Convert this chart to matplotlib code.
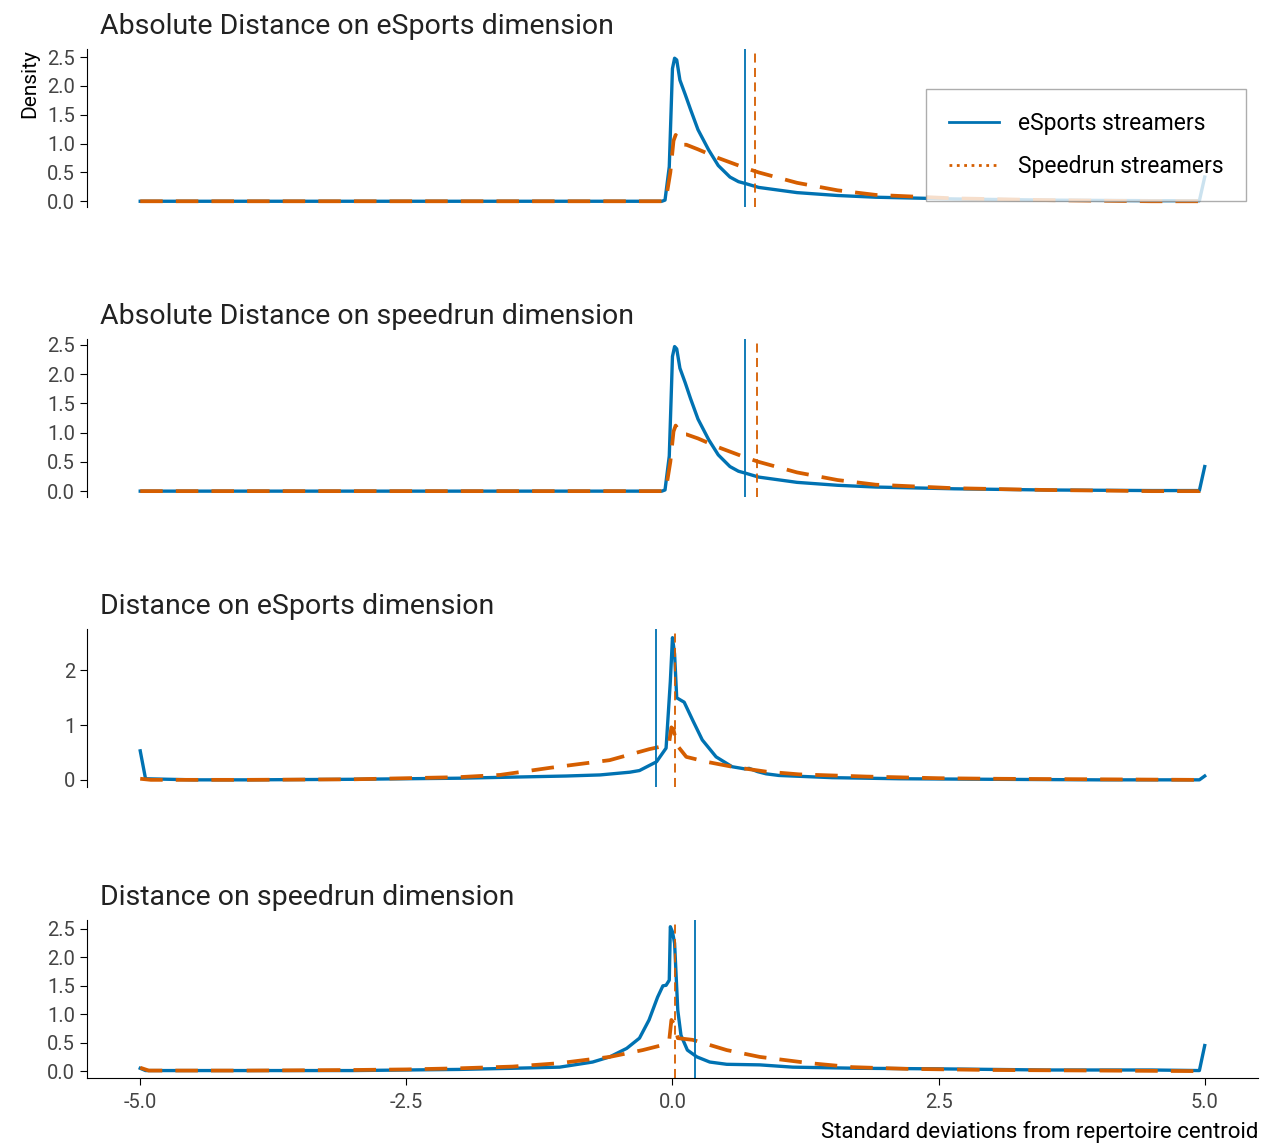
import matplotlib.pyplot as plt
from matplotlib.lines import Line2D

plt.rcParams['font.family'] = ['Roboto', 'DejaVu Sans']

BLUE = '#0072B2'
ORANGE = '#D55E00'

titles = ['Absolute Distance on eSports dimension',
          'Absolute Distance on speedrun dimension',
          'Distance on eSports dimension',
          'Distance on speedrun dimension']

# density curves: (x, density)
abs_esp_blue_x = [-5.0, -0.1, -0.07, -0.03, 0.0, 0.02, 0.04, 0.07, 0.12, 0.17, 0.24, 0.34, 0.43, 0.54, 0.62, 0.68,
                  0.81, 1.17, 1.55, 1.91, 2.65, 3.5, 4.5, 4.95, 5.0]
abs_esp_blue_y = [0.0, 0.0, 0.02, 0.6, 2.3, 2.48, 2.45, 2.1, 1.85, 1.59, 1.24, 0.89, 0.62, 0.42, 0.34, 0.31,
                  0.24, 0.15, 0.10, 0.07, 0.04, 0.02, 0.01, 0.01, 0.42]
abs_esp_orng_x = [-5.0, -0.1, -0.06, -0.02, 0.01, 0.03, 0.05, 0.08, 0.13, 0.24, 0.43, 0.68, 0.81, 1.17, 1.55,
                  1.91, 2.65, 3.5, 4.5, 4.95, 5.0]
abs_esp_orng_y = [0.0, 0.0, 0.05, 0.5, 1.05, 1.15, 1.1, 0.98, 0.98, 0.9, 0.75, 0.58, 0.5, 0.32, 0.19,
                  0.11, 0.05, 0.02, 0.0, 0.0, 0.08]

abs_spd_blue_x = [-5.0, -0.1, -0.07, -0.03, 0.0, 0.02, 0.04, 0.07, 0.12, 0.17, 0.24, 0.34, 0.43, 0.54, 0.62, 0.68,
                  0.81, 1.17, 1.55, 1.91, 2.65, 3.5, 4.5, 4.95, 5.0]
abs_spd_blue_y = [0.0, 0.0, 0.02, 0.6, 2.3, 2.47, 2.43, 2.1, 1.85, 1.58, 1.23, 0.88, 0.62, 0.42, 0.34, 0.31,
                  0.24, 0.15, 0.10, 0.07, 0.04, 0.02, 0.01, 0.01, 0.42]
abs_spd_orng_x = [-5.0, -0.1, -0.06, -0.02, 0.01, 0.03, 0.05, 0.08, 0.13, 0.24, 0.43, 0.68, 0.81, 1.17, 1.55,
                  1.91, 2.65, 3.5, 4.5, 4.95, 5.0]
abs_spd_orng_y = [0.0, 0.0, 0.05, 0.5, 1.02, 1.12, 1.07, 0.97, 0.97, 0.9, 0.75, 0.58, 0.5, 0.32, 0.19,
                  0.11, 0.05, 0.02, 0.0, 0.0, 0.08]

esp_blue_x = [-5.0, -4.95, -4.5, -4.0, -3.0, -2.5, -2.0, -1.5, -1.0, -0.68, -0.4, -0.31, -0.15, -0.06, -0.02,
              0.0, 0.02, 0.04, 0.11, 0.19, 0.28, 0.41, 0.56, 0.68, 0.72, 0.8, 0.88, 1.0, 1.5, 2.13, 3.0, 4.0,
              4.95, 5.0]
esp_blue_y = [0.53, 0.02, 0.0, 0.0, 0.01, 0.02, 0.03, 0.05, 0.07, 0.09, 0.14, 0.17, 0.33, 0.58, 1.8,
              2.6, 2.3, 1.5, 1.42, 1.09, 0.73, 0.42, 0.24, 0.2, 0.21, 0.15, 0.11, 0.08, 0.04, 0.02, 0.01, 0.0,
              0.0, 0.07]
esp_orng_x = [-5.0, -4.9, -4.0, -3.0, -2.5, -2.0, -1.62, -1.15, -0.59, -0.22, -0.08, -0.03, -0.01, 0.01, 0.04,
              0.13, 0.32, 0.56, 0.88, 1.19, 1.82, 2.5, 3.0, 4.0, 4.9, 5.0]
esp_orng_y = [0.02, 0.0, 0.0, 0.01, 0.03, 0.05, 0.09, 0.22, 0.36, 0.56, 0.62, 0.7, 0.96, 0.92, 0.64,
              0.42, 0.33, 0.24, 0.15, 0.1, 0.06, 0.03, 0.02, 0.01, 0.0, 0.07]

spd_blue_x = [-5.0, -4.95, -4.0, -3.0, -2.5, -2.0, -1.5, -1.06, -0.75, -0.59, -0.43, -0.31, -0.22, -0.14, -0.09,
              -0.06, -0.03, -0.02, 0.0, 0.02, 0.05, 0.08, 0.14, 0.23, 0.35, 0.51, 0.82, 1.13, 1.75, 2.5, 3.5,
              4.5, 4.95, 5.0]
spd_blue_y = [0.05, 0.01, 0.01, 0.01, 0.02, 0.03, 0.05, 0.07, 0.16, 0.25, 0.40, 0.58, 0.90, 1.30, 1.50,
              1.51, 1.6, 2.54, 2.45, 2.25, 1.07, 0.63, 0.37, 0.25, 0.16, 0.12, 0.11, 0.07, 0.05, 0.04, 0.02,
              0.02, 0.01, 0.45]
spd_orng_x = [-5.0, -4.92, -4.0, -3.0, -2.5, -2.0, -1.5, -1.06, -0.59, -0.28, -0.09, -0.03, -0.01, 0.02, 0.05,
              0.19, 0.51, 0.82, 1.29, 1.69, 2.2, 3.0, 4.0, 4.95, 5.0]
spd_orng_y = [0.06, 0.01, 0.01, 0.02, 0.03, 0.05, 0.08, 0.14, 0.25, 0.37, 0.46, 0.55, 0.9, 0.82, 0.58,
              0.55, 0.37, 0.25, 0.14, 0.07, 0.04, 0.02, 0.01, 0.0, 0.03]

blue_means = [0.685, 0.685, -0.15, 0.21]
orng_means = [0.78, 0.79, 0.02, 0.02]

curves = [(abs_esp_blue_x, abs_esp_blue_y, abs_esp_orng_x, abs_esp_orng_y),
          (abs_spd_blue_x, abs_spd_blue_y, abs_spd_orng_x, abs_spd_orng_y),
          (esp_blue_x, esp_blue_y, esp_orng_x, esp_orng_y),
          (spd_blue_x, spd_blue_y, spd_orng_x, spd_orng_y)]

ylims = [(-0.1, 2.64), (-0.1, 2.6), (-0.13, 2.76), (-0.12, 2.66)]
yticks = [[0, 0.5, 1, 1.5, 2, 2.5], [0, 0.5, 1, 1.5, 2, 2.5], [0, 1, 2], [0, 0.5, 1, 1.5, 2, 2.5]]
xticks = [-5.0, -2.5, 0.0, 2.5, 5.0]

fig = plt.figure(figsize=(12.7, 11.47), dpi=100)
bottoms = [0.8195, 0.5667, 0.3139, 0.0602]
axes = [fig.add_axes([0.0685, b, 0.922, 0.1378]) for b in bottoms]

for i, ax in enumerate(axes):
    bx, by, ox, oy = curves[i]
    ax.plot(bx, by, color=BLUE, lw=2.4)
    ax.plot(ox, oy, color=ORANGE, lw=2.7, dashes=(6, 3.5))
    ax.axvline(blue_means[i], color=BLUE, lw=1.3)
    ax.axvline(orng_means[i], color=ORANGE, lw=1.3, dashes=(5, 3))
    ax.set_xlim(-5.5, 5.5)
    ax.set_ylim(*ylims[i])
    ax.set_yticks(yticks[i])
    if i == 2:
        ax.set_yticklabels([str(t) for t in yticks[i]])
    else:
        ax.set_yticklabels(['%.1f' % t for t in yticks[i]])
    ax.spines['top'].set_visible(False)
    ax.spines['right'].set_visible(False)
    ax.tick_params(axis='y', labelsize=14.5, labelcolor='#444444', length=5)
    ax.set_title(titles[i], loc='left', x=0.011, fontsize=20.5, pad=11, color='#222222')
    if i < 3:
        ax.spines['bottom'].set_visible(False)
        ax.set_xticks([])
    else:
        ax.set_xticks(xticks)
        ax.set_xticklabels(['%.1f' % t for t in xticks])
        ax.tick_params(axis='x', labelsize=14.5, labelcolor='#444444', length=5, pad=6)
        ax.set_xlabel('Standard deviations from repertoire centroid', fontsize=16, loc='right', labelpad=6)

axes[0].set_ylabel('Density', fontsize=15, loc='top', labelpad=6)

# legend uses a dotted handle for the speedrun line
handles = [Line2D([], [], color=BLUE, lw=2),
           Line2D([], [], color=ORANGE, lw=2, linestyle=':')]
leg = axes[0].legend(handles, ['eSports streamers', 'Speedrun streamers'], loc='upper right',
                     bbox_to_anchor=(0.99, 0.745), borderaxespad=0, fontsize=16.5, frameon=True,
                     fancybox=False, handlelength=2.2, labelspacing=0.85, borderpad=1.0,
                     edgecolor='#999999')
leg.get_frame().set_linewidth(1.0)

fig.savefig('out.png', dpi=100)
